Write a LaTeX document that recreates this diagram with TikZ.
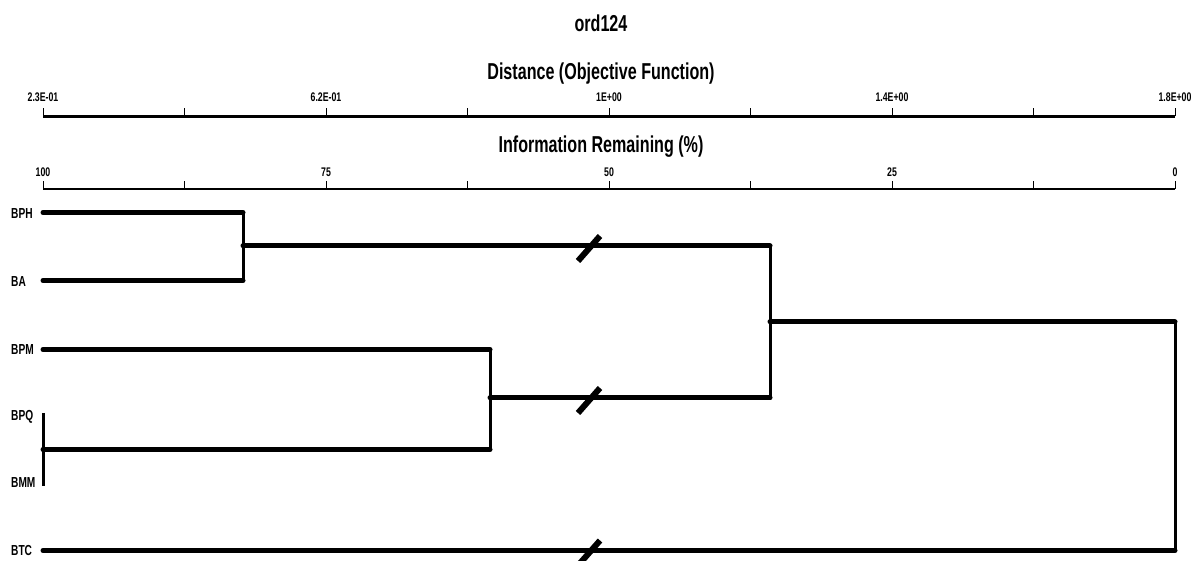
\documentclass[tikz,border=0pt]{standalone}
\usepackage{fontspec}
\setmainfont{Liberation Sans}[FakeStretch=0.7]
\begin{document}
\begin{tikzpicture}[x=1pt,y=-1pt,
    leaf/.style={anchor=west,inner sep=0pt,font=\bfseries\fontsize{14.5}{14.5}\selectfont},
    ticklab/.style={anchor=base,inner sep=0pt,font=\bfseries\fontsize{12.5}{12.5}\selectfont},
    heading/.style={anchor=base,inner sep=0pt,font=\bfseries\fontsize{23}{23}\selectfont},
    branch/.style={line width=5pt,line cap=round},
    vline/.style={line width=3pt},
    brk/.style={line width=6pt}]
        \useasboundingbox (0,0) rectangle (1195,561);
        % titles
        \node[heading] (title) at (601,32) {ord124};
        \node[heading] (dist) at (601,80) {Distance (Objective Function)};
        \node[heading] (info) at (601,153) {Information Remaining (\%)};
        % axes
        \draw[line width=3pt] (43,116.5) -- (1175,116.5);
        \draw[line width=2pt] (43,189) -- (1175,189);
        \foreach \x in {43,184.5,...,1175}{
          \draw[line width=1pt] (\x,116.5) -- (\x,108);
          \draw[line width=1pt] (\x,189) -- (\x,181);
        }
        \foreach \x/\a/\b in {43/2.3E-01/100, 326/6.2E-01/75, 609/1E+00/50, 892/1.4E+00/25, 1175/1.8E+00/0}{
          \node[ticklab] at (\x,102) {\a};
          \node[ticklab] at (\x,176.5) {\b};
        }
        % leaves
        \node[leaf] (bph) at (11,214) {BPH};
        \node[leaf] (ba)  at (11,282) {BA};
        \node[leaf] (bpm) at (11,349.5) {BPM};
        \node[leaf] (bpq) at (11,417) {BPQ};
        \node[leaf] (bmm) at (11,483) {BMM};
        \node[leaf] (btc) at (11,551) {BTC};
        \coordinate (bphS) at (43,212.5);
        \coordinate (baS)  at (43,280.5);
        \coordinate (bpmS) at (43,349.5);
        \coordinate (bpqS) at (43,413);
        \coordinate (bmmS) at (43,486);
        \coordinate (btcS) at (43,550.5);
        % merges
        \coordinate (n1) at (243,246);
        \coordinate (n2) at (43,449.5);
        \coordinate (n3) at (490,398);
        \coordinate (n4) at (770,322);
        \coordinate (n5) at (1175,322);
        \draw[branch] (bphS) -- (bphS -| n1);
        \draw[branch] (baS) -- (baS -| n1);
        \draw[vline] (bphS -| n1) -- (baS -| n1);
        \draw[branch] (n1) -- (n1 -| n4);
        \draw[vline] (bpqS) -- (bmmS);
        \draw[branch] (bpmS) -- (bpmS -| n3);
        \draw[branch] (n2) -- (n2 -| n3);
        \draw[vline] (bpmS -| n3) -- (n2 -| n3);
        \draw[branch] (n3) -- (n3 -| n4);
        \draw[vline] (n1 -| n4) -- (n3 -| n4);
        \draw[branch] (n4) -- (n5);
        \draw[branch] (btcS) -- (btcS -| n5);
        \draw[vline] (n5) -- (btcS -| n5);
        % break marks
        \foreach \y in {246,398,550.5}{
          \draw[brk] (578,\y+15) -- (600,\y-10);
        }

      \end{tikzpicture}
\end{document}
